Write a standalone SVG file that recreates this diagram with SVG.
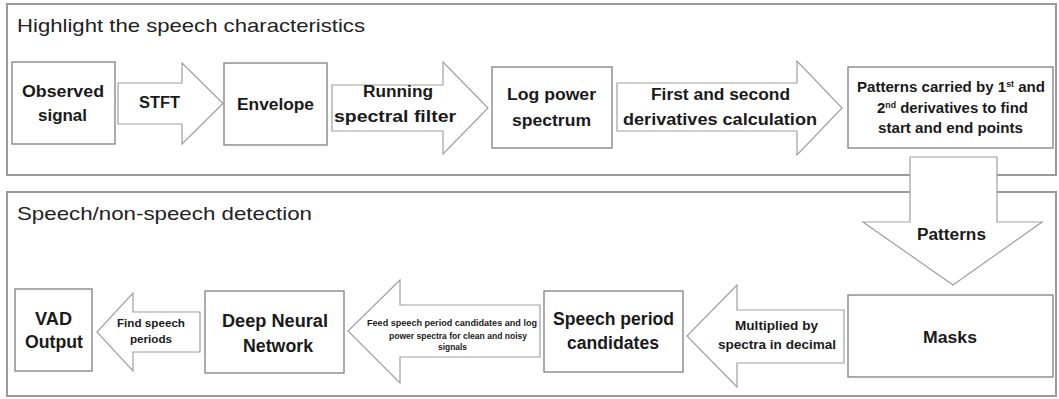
<svg xmlns="http://www.w3.org/2000/svg" width="1059" height="399" viewBox="0 0 1059 399">
<style>
.panel{fill:#ffffff;stroke:#9a9a9a;stroke-width:2}
.box{fill:#ffffff;stroke:#7f7f7f;stroke-width:1.3}
.arr{fill:#ffffff;stroke:#a0a0a0;stroke-width:1.2;stroke-linejoin:miter}
.title{font-family:"Liberation Sans",Arial,sans-serif;font-size:19px;fill:#222}
.lbl{font-family:"Liberation Sans",Arial,sans-serif;font-weight:bold;fill:#1a1a1a;text-anchor:middle}
</style>
<rect width="1059" height="399" fill="#ffffff"/>
<g id="panel-top">
<rect class="panel" x="7" y="4" width="1049" height="171"/>
<text class="title" x="17" y="32" textLength="348" lengthAdjust="spacingAndGlyphs">Highlight the speech characteristics</text>
</g>
<g id="panel-bottom">
<rect class="panel" x="7" y="192" width="1049" height="204"/>
<text class="title" x="17" y="220" textLength="295" lengthAdjust="spacingAndGlyphs">Speech/non-speech detection</text>
</g>
<g id="connectors">
<g id="arrow-stft">
<polygon class="arr" points="118,83 182,83 182,63 223,103.5 182,144 182,124 118,124"/>
<text class="lbl" font-size="16" x="159.5" y="108" textLength="41" lengthAdjust="spacingAndGlyphs">STFT</text>
</g>
<g id="arrow-running">
<polygon class="arr" points="332,85 443,85 443,62 488,108 443,154 443,131 332,131"/>
<text class="lbl" font-size="16" x="398" y="97" textLength="70" lengthAdjust="spacingAndGlyphs">Running</text>
<text class="lbl" font-size="16" x="395" y="122" textLength="122" lengthAdjust="spacingAndGlyphs">spectral filter</text>
</g>
<g id="arrow-derivatives">
<polygon class="arr" points="617,83 797,83 797,61 842,108 797,155 797,131 617,131"/>
<text class="lbl" font-size="16" x="720.5" y="100" textLength="139" lengthAdjust="spacingAndGlyphs">First and second</text>
<text class="lbl" font-size="16" x="720" y="125" textLength="194" lengthAdjust="spacingAndGlyphs">derivatives calculation</text>
</g>
<g id="arrow-patterns">
<polygon class="arr" points="910,157 997,157 997,222 1042,222 953,285 863,222 910,222"/>
<text class="lbl" font-size="16" x="951.5" y="240" textLength="69" lengthAdjust="spacingAndGlyphs">Patterns</text>
</g>
<g id="arrow-multiplied">
<polygon class="arr" points="844,310 737,310 737,285 687,336 737,387 737,363 844,363"/>
<text class="lbl" font-size="13" x="776.5" y="330" textLength="83" lengthAdjust="spacingAndGlyphs">Multiplied by</text>
<text class="lbl" font-size="13" x="777" y="349" textLength="118" lengthAdjust="spacingAndGlyphs">spectra in decimal</text>
</g>
<g id="arrow-feed">
<polygon class="arr" points="540,305 400,305 400,280 348,331 400,383 400,357 540,357"/>
<text class="lbl" font-size="9" x="452" y="326" textLength="170" lengthAdjust="spacingAndGlyphs">Feed speech period candidates and log</text>
<text class="lbl" font-size="9" x="458" y="339" textLength="138" lengthAdjust="spacingAndGlyphs">power spectra for clean and noisy</text>
<text class="lbl" font-size="9" x="452.5" y="350" textLength="29" lengthAdjust="spacingAndGlyphs">signals</text>
</g>
<g id="arrow-find">
<polygon class="arr" points="200,312 133,312 133,293 97,332 133,371 133,352 200,352"/>
<text class="lbl" font-size="10" x="151" y="327" textLength="68" lengthAdjust="spacingAndGlyphs">Find speech</text>
<text class="lbl" font-size="10" x="151" y="343" textLength="42" lengthAdjust="spacingAndGlyphs">periods</text>
</g>
</g>
<g id="node-observed">
<rect class="box" x="12" y="62" width="103" height="82"/>
<text class="lbl" font-size="17" x="63" y="97" textLength="82" lengthAdjust="spacingAndGlyphs">Observed</text>
<text class="lbl" font-size="17" x="62.5" y="121" textLength="49" lengthAdjust="spacingAndGlyphs">signal</text>
</g>
<g id="node-envelope">
<rect class="box" x="224" y="63" width="103" height="82"/>
<text class="lbl" font-size="17" x="275.5" y="110" textLength="77" lengthAdjust="spacingAndGlyphs">Envelope</text>
</g>
<g id="node-logpower">
<rect class="box" x="492" y="67" width="120" height="81"/>
<text class="lbl" font-size="16" x="551.5" y="100" textLength="89" lengthAdjust="spacingAndGlyphs">Log power</text>
<text class="lbl" font-size="16" x="551.5" y="126" textLength="79" lengthAdjust="spacingAndGlyphs">spectrum</text>
</g>
<g id="node-patterns">
<rect class="box" x="848" y="67" width="205" height="81"/>
<text class="lbl" font-size="14.5" x="951" y="92" textLength="188" lengthAdjust="spacingAndGlyphs">Patterns carried by 1<tspan font-size="8.5" dy="-5">st</tspan><tspan dy="5"> and</tspan></text>
<text class="lbl" font-size="14.5" x="952.5" y="113" textLength="151" lengthAdjust="spacingAndGlyphs">2<tspan font-size="8.5" dy="-5">nd</tspan><tspan dy="5"> derivatives to find</tspan></text>
<text class="lbl" font-size="14.5" x="950.5" y="133" textLength="145" lengthAdjust="spacingAndGlyphs">start and end points</text>
</g>
<g id="node-masks">
<rect class="box" x="848" y="295" width="205" height="82"/>
<text class="lbl" font-size="17" x="950" y="343" textLength="54" lengthAdjust="spacingAndGlyphs">Masks</text>
</g>
<g id="node-candidates">
<rect class="box" x="544" y="291" width="139" height="81"/>
<text class="lbl" font-size="18" x="613.5" y="325" textLength="121" lengthAdjust="spacingAndGlyphs">Speech period</text>
<text class="lbl" font-size="18" x="613" y="349" textLength="92" lengthAdjust="spacingAndGlyphs">candidates</text>
</g>
<g id="node-dnn">
<rect class="box" x="205" y="291" width="139" height="82"/>
<text class="lbl" font-size="18" x="275" y="327" textLength="106" lengthAdjust="spacingAndGlyphs">Deep Neural</text>
<text class="lbl" font-size="18" x="278" y="352" textLength="70" lengthAdjust="spacingAndGlyphs">Network</text>
</g>
<g id="node-vad">
<rect class="box" x="15" y="289" width="77" height="82"/>
<text class="lbl" font-size="18" x="53.5" y="325" textLength="37" lengthAdjust="spacingAndGlyphs">VAD</text>
<text class="lbl" font-size="18" x="54" y="348" textLength="58" lengthAdjust="spacingAndGlyphs">Output</text>
</g>
</svg>
